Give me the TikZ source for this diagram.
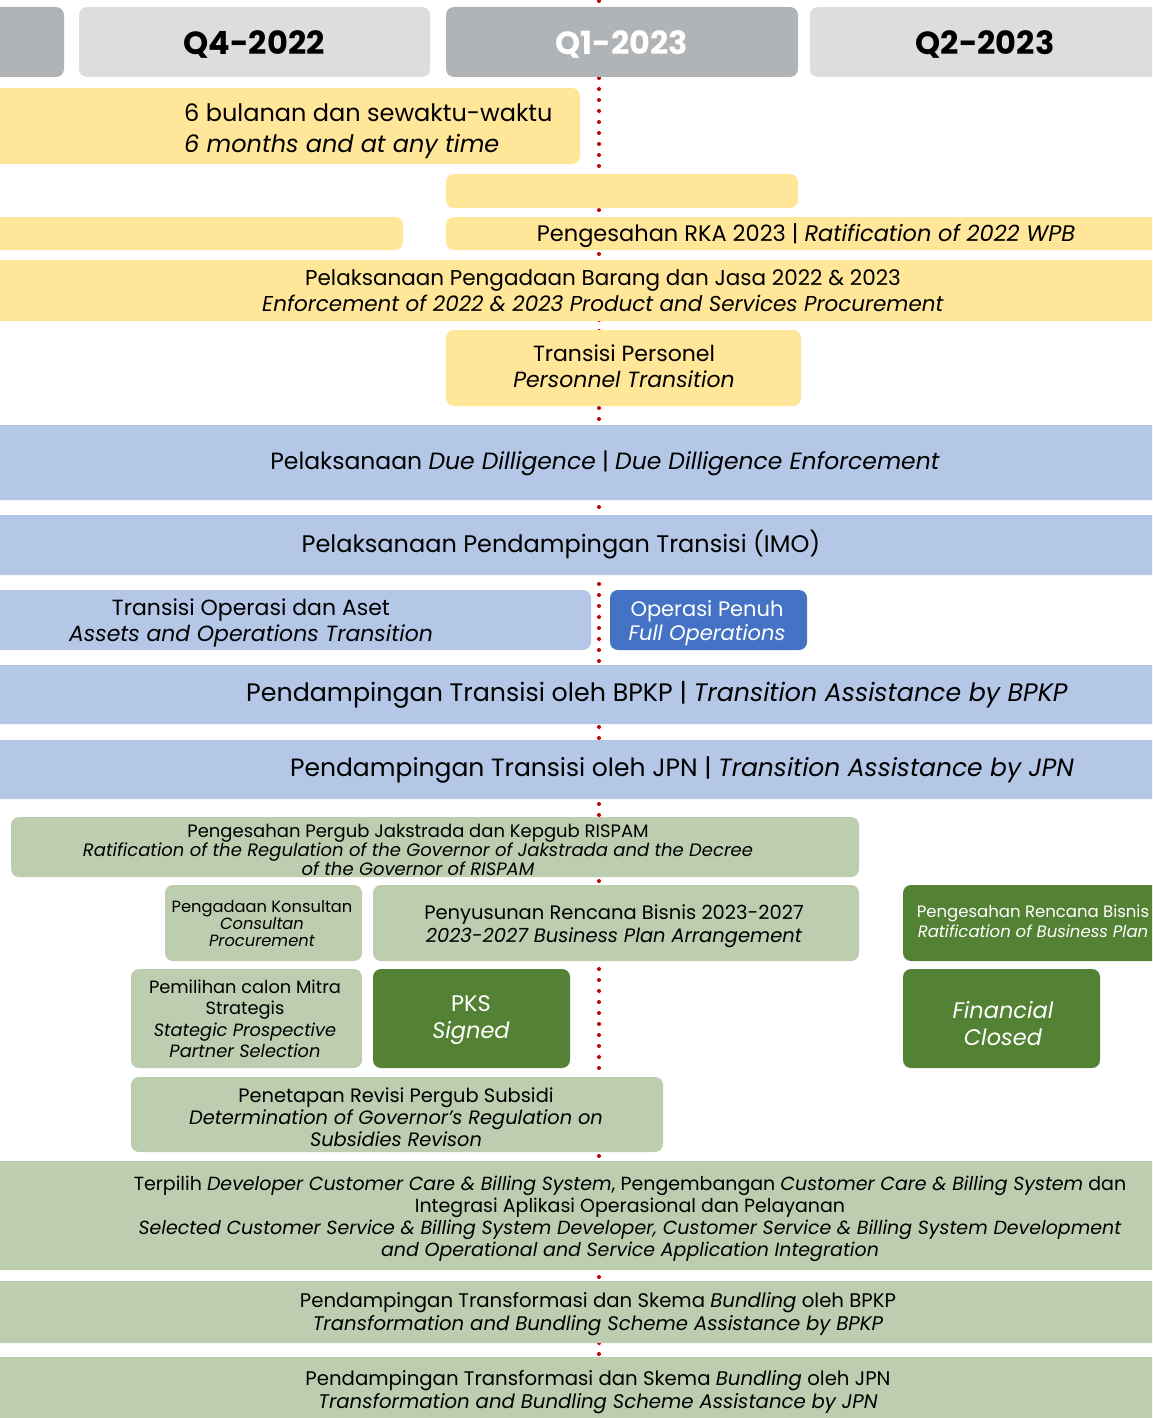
\documentclass[tikz,border=0pt]{standalone}
\usepackage{fontspec}
\setmainfont{Poppins}
\definecolor{hdrD}{HTML}{B1B4B7}
\definecolor{hdrL}{HTML}{DCDDDF}
\definecolor{yel}{HTML}{FFE699}
\definecolor{blu}{HTML}{B4C7E7}
\definecolor{bluD}{HTML}{4472C4}
\definecolor{grn}{HTML}{BDCDB0}
\definecolor{grnD}{HTML}{548235}
\definecolor{redD}{HTML}{C00000}
\newcommand\fs[2]{\fontsize{#1}{#2}\selectfont}
\newcommand\bx[6]{\node[#6, minimum width={#4-#2}, minimum height={#5-#3}] (#1) at ({(#2+#4)/2},{(#3+#5)/2}) {};}
\tikzset{
  card/.style={rounded corners=8pt, inner sep=0pt, draw=none},
  hd/.style={card, fill=hdrD},
  hl/.style={card, fill=hdrL},
  yb/.style={card, fill=yel},
  bb/.style={card, fill=blu},
  bd/.style={card, fill=bluD},
  gb/.style={card, fill=grn},
  gd/.style={card, fill=grnD},
  txt/.style={inner sep=0pt, align=center, text=black},
  wtxt/.style={inner sep=0pt, align=center, text=white},
}
\begin{document}
\begin{tikzpicture}[x=1pt,y=-1pt]
\path[use as bounding box] (0,0) rectangle (1152,1418);
\clip (0,0) rectangle (1152,1418);
% dotted milestone line
\coordinate (ltop) at (599,1);
\coordinate (lbot) at (599,1418);
\draw[redD, line width=4pt, line cap=round, dash pattern=on 0pt off 11pt] (ltop) -- (lbot);
% header
\bx{h0}{-40}{7}{64}{77}{hd}
\bx{h1}{79}{7}{430}{77}{hl}
\bx{h2}{446}{7}{798}{77}{hd}
\bx{h3}{810}{7}{1190}{77}{hl}
\node[txt, font=\fs{32}{36}\bfseries] (t1) at (254,44) {Q4-2022};
\node[wtxt, font=\fs{32}{36}\bfseries] (t2) at (622,44) {Q1-2023};
\node[txt, font=\fs{32}{36}\bfseries] (t3) at (985,44) {Q2-2023};
% yellow rows
\bx{y1}{-40}{88}{580}{164}{yb}
\node[txt, align=left, anchor=west, font=\fs{24}{31}] (y1t) at (184,131) {6 bulanan dan sewaktu-waktu\\\textit{6 months and at any time}};
\bx{y2}{446}{174}{798}{208}{yb}
\bx{y3a}{-40}{217}{403}{250}{yb}
\bx{y3b}{446}{217}{1190}{250}{yb}
\node[txt, font=\fs{22.5}{26}] (y3t) at (806,236) {Pengesahan RKA 2023 | \textit{Ratification of 2022 WPB}};
\bx{y4}{-40}{260}{1190}{321}{yb}
\node[txt, font=\fs{21.5}{26}] (y4t) at (603,291) {Pelaksanaan Pengadaan Barang dan Jasa 2022 \& 2023\\\textit{Enforcement of 2022 \& 2023 Product and Services Procurement}};
\bx{y5}{446}{330}{801}{406}{yb}
\node[txt, font=\fs{22}{26}] (y5t) at (624,366) {Transisi Personel\\\textit{Personnel Transition}};
% blue rows
\bx{b1}{-40}{425}{1190}{500}{bb}
\node[txt, font=\fs{23.5}{26}] (b1t) at (605,463) {Pelaksanaan \textit{Due Dilligence} | \textit{Due Dilligence Enforcement}};
\bx{b2}{-40}{515}{1190}{575}{bb}
\node[txt, font=\fs{24}{26}] (b2t) at (561,545) {Pelaksanaan Pendampingan Transisi (IMO)};
\bx{b3a}{-40}{590}{591}{650}{bb}
\node[txt, font=\fs{22}{26}] (b3at) at (251,623) {Transisi Operasi dan Aset\\\textit{Assets and Operations Transition}};
\bx{b3b}{610}{590}{807}{650}{bd}
\node[wtxt, font=\fs{21}{24}] (b3bt) at (707,623) {Operasi Penuh\\\textit{Full Operations}};
\bx{b4}{-40}{665}{1190}{724}{bb}
\node[txt, font=\fs{25.3}{28}] (b4t) at (657,695) {Pendampingan Transisi oleh BPKP | \textit{Transition Assistance by BPKP}};
\bx{b5}{-40}{740}{1190}{799}{bb}
\node[txt, font=\fs{25}{28}] (b5t) at (682,770) {Pendampingan Transisi oleh JPN | \textit{Transition Assistance by JPN}};
% green rows
\bx{g1}{11}{817}{859}{877}{gb}
\node[txt, font=\fs{18}{19}] (g1t) at (418,850) {Pengesahan Pergub Jakstrada dan Kepgub RISPAM\\\textit{Ratification of the Regulation of the Governor of Jakstrada and the Decree}\\\textit{of the Governor of RISPAM}};
\bx{g2a}{165}{885}{362}{961}{gb}
\node[txt, font=\fs{16.3}{17}] (g2at) at (262,924) {Pengadaan Konsultan\\\textit{Consultan}\\\textit{Procurement}};
\bx{g2b}{373}{885}{859}{961}{gb}
\node[txt, font=\fs{19.5}{23}] (g2bt) at (614,926) {Penyusunan Rencana Bisnis 2023-2027\\\textit{2023-2027 Business Plan Arrangement}};
\bx{g2c}{903}{885}{1190}{961}{gd}
\node[wtxt, font=\fs{16.5}{20}] (g2ct) at (1033,921) {Pengesahan Rencana Bisnis\\\textit{Ratification of Business Plan}};
\bx{g3a}{131}{969}{362}{1068}{gb}
\node[txt, font=\fs{17.8}{21.5}] (g3at) at (245,1019) {Pemilihan calon Mitra\\Strategis\\\textit{Stategic Prospective}\\\textit{Partner Selection}};
\bx{g3b}{373}{969}{570}{1068}{gd}
\node[wtxt, font=\fs{22.5}{27}] (g3bt) at (471,1020) {PKS\\\textit{Signed}};
\bx{g3c}{903}{969}{1100}{1068}{gd}
\node[wtxt, font=\fs{22.5}{27}] (g3ct) at (1003,1024) {\textit{Financial}\\\textit{Closed}};
\bx{g4}{131}{1077}{663}{1152}{gb}
\node[txt, font=\fs{19.4}{22}] (g4t) at (396,1117) {Penetapan Revisi Pergub Subsidi\\\textit{Determination of Governor’s Regulation on}\\\textit{Subsidies Revison}};
\bx{g5}{-40}{1161}{1190}{1270}{gb}
\node[txt, font=\fs{19}{22}] (g5t) at (630,1219) {Terpilih \textit{Developer Customer Care \& Billing System}, Pengembangan \textit{Customer Care \& Billing System} dan\\Integrasi Aplikasi Operasional dan Pelayanan\\\textit{Selected Customer Service \& Billing System Developer, Customer Service \& Billing System Development}\\\textit{and Operational and Service Application Integration}};
\bx{g6}{-40}{1281}{1190}{1343}{gb}
\node[txt, font=\fs{19.7}{23}] (g6t) at (598,1314) {Pendampingan Transformasi dan Skema \textit{Bundling} oleh BPKP\\\textit{Transformation and Bundling Scheme Assistance by BPKP}};
\bx{g7}{-40}{1357}{1190}{1450}{gb}
\node[txt, font=\fs{19.7}{23}] (g7t) at (598,1392) {Pendampingan Transformasi dan Skema \textit{Bundling} oleh JPN\\\textit{Transformation and Bundling Scheme Assistance by JPN}};
\end{tikzpicture}
\end{document}
